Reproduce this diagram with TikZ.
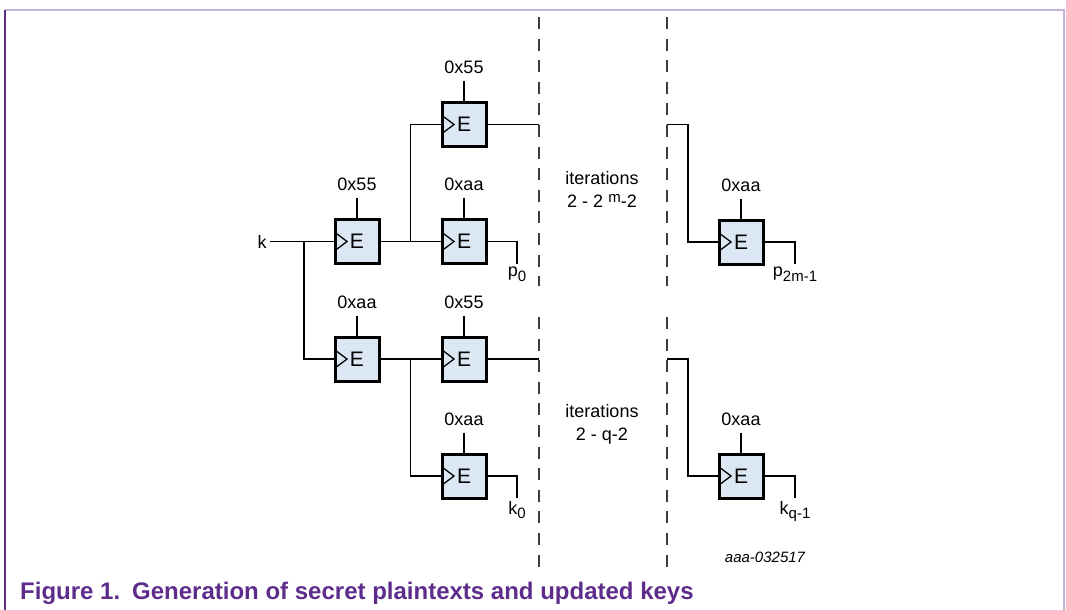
\documentclass[tikz,border=0pt]{standalone}
\usepackage{fontspec}
\setmainfont{Liberation Sans}
\usetikzlibrary{positioning}

\definecolor{boxblue}{RGB}{220,231,244}
\definecolor{capurple}{RGB}{94,45,140}
\definecolor{framelilac}{RGB}{196,180,220}
\definecolor{cutgrey}{RGB}{60,60,60}

\newcommand{\lowsub}[1]{\raisebox{-4.5pt}{\fontsize{15}{15}\selectfont #1}}
\newcommand{\highsup}[1]{\raisebox{5pt}{\fontsize{15}{15}\selectfont #1}}

\tikzset{
  wire/.style={line width=1.3pt},
  cutline/.style={line width=2pt, cutgrey, dash pattern=on 12pt off 9.6pt},
  ebox/.style={draw, line width=3pt, fill=boxblue, minimum width=44pt,
    minimum height=44pt, inner sep=0pt, font=\fontsize{21}{21}\selectfont,
    path picture={\draw[line width=1.3pt] ([yshift=9pt]path picture bounding box.west)
      -- ++(12pt,-9pt) -- ++(-12pt,-9pt);}},
  val/.style={inner xsep=0pt, inner ysep=7pt, font=\fontsize{18}{18}\selectfont},
  outl/.style={inner sep=3pt, anchor=north, font=\fontsize{18}{18}\selectfont},
  iter/.style={align=center, font=\fontsize{18}{23}\selectfont}
}

\begin{document}
\begin{tikzpicture}[x=1pt,y=-1pt]
\useasboundingbox (0,0) rectangle (1066,610);

% frame
\draw[framelilac, line width=1.5pt] (5,10) -- (1064,10) -- (1064,610);
\draw[capurple, line width=1.5pt] (5,10) -- (5,610);

% cipher blocks
\node[ebox] (b1) at (357,241.5) {E\hspace{6pt}};
\node[ebox] (b2) at (464,241.5) {E\hspace{6pt}};
\node[ebox] (btop) at (464,124.5) {E\hspace{6pt}};
\node[ebox] (b3) at (357,359) {E\hspace{6pt}};
\node[ebox] (b4) at (464,359) {E\hspace{6pt}};
\node[ebox] (b5) at (464,476) {E\hspace{6pt}};
\node[ebox] (br1) at (741,242) {E\hspace{6pt}};
\node[ebox] (br2) at (741,476) {E\hspace{6pt}};

% constants
\node[val, above=20pt of b1] (vb1) {0x55};
\node[val, above=20pt of b2] (vb2) {0xaa};
\node[val, above=20pt of btop] (vbtop) {0x55};
\node[val, above=20pt of b3] (vb3) {0xaa};
\node[val, above=20pt of b4] (vb4) {0x55};
\node[val, above=20pt of b5] (vb5) {0xaa};
\node[val, above=20pt of br1] (vbr1) {0xaa};
\node[val, above=20pt of br2] (vbr2) {0xaa};
\foreach \b in {b1,b2,btop,b3,b4,b5,br1,br2}
  \draw[wire] (v\b) -- (\b);

% inputs and outputs
\node[font=\fontsize{18}{18}\selectfont] (k) at (262,241.5) {k};
\node[outl] (p0) at (517,264) {p\lowsub{0}};
\node[outl] (k0) at (517,498) {k\lowsub{0}};
\node[outl] (plast) at (795,264) {p\lowsub{2m-1}};
\node[outl] (klast) at (795,498) {k\lowsub{q-1}};

% iteration notes
\node[iter] (it1) at (602,189) {iterations\\2 - 2 \highsup{m}-2};
\node[iter] (it2) at (602,424) {iterations\\2 - q-2};
\node[font=\fontsize{15}{15}\selectfont\itshape] (fig) at (765,557) {aaa-032517};

% cut lines
\coordinate (cutAtop) at (539,17);
\coordinate (cutAmid) at (539,286);
\coordinate (cutAlow) at (539,317);
\coordinate (cutAbot) at (539,573);
\coordinate (cutBtop) at (667,17);
\coordinate (cutBmid) at (667,286);
\coordinate (cutBlow) at (667,317);
\coordinate (cutBbot) at (667,573);
\draw[cutline] (cutAtop) -- (cutAmid);
\draw[cutline] (cutAlow) -- (cutAbot);
\draw[cutline] (cutBtop) -- (cutBmid);
\draw[cutline] (cutBlow) -- (cutBbot);

% wiring
\coordinate (j0) at (304,241.5);
\coordinate (j1) at (410.7,241.5);
\coordinate (j2) at (410.7,359);
\coordinate (endA1) at (539,124.5);
\coordinate (endA2) at (539,359);
\coordinate (startB1) at (667,124.5);
\coordinate (startB2) at (667,359);
\coordinate (jr1) at (688,124.5);
\coordinate (jr2) at (688,359);
\draw[wire] (k) -- (b1);
\draw[wire] (j0) |- (b3.west);
\draw[wire] (b1) -- (b2);
\draw[wire] (j1) |- (btop.west);
\draw[wire] (b3) -- (b4);
\draw[wire] (j2) |- (b5.west);
\draw[wire] (btop) -- (endA1);
\draw[wire] (b4) -- (endA2);
\draw[wire] (b2.east) -| (p0.north);
\draw[wire] (b5.east) -| (k0.north);
\draw[wire] (startB1) -- (jr1) |- (br1.west);
\draw[wire] (startB2) -- (jr2) |- (br2.west);
\draw[wire] (br1.east) -| (plast.north);
\draw[wire] (br2.east) -| (klast.north);

% caption
\node[anchor=base west, inner sep=0pt, text=capurple, font=\fontsize{24}{24}\selectfont\bfseries] (cap) at (20,599)
  {Figure 1.\hspace{12pt}Generation of secret plaintexts and updated keys};
\end{tikzpicture}
\end{document}
